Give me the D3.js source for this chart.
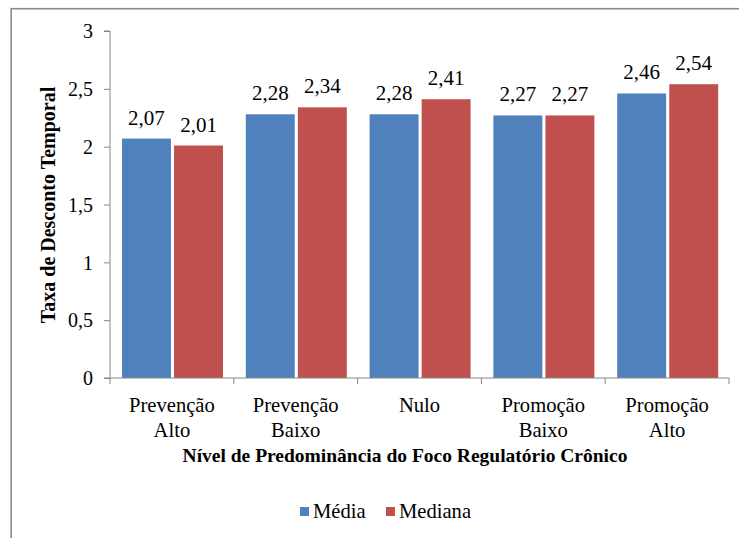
<!DOCTYPE html>
<html>
<head>
<meta charset="utf-8">
<script src="https://cdn.jsdelivr.net/npm/d3@7"></script>
<style>
  html, body { margin: 0; padding: 0; background: #fff; }
</style>
</head>
<body>
<svg id="chart" width="739" height="538"></svg>
<script>
// Categories and series values
const categories = [["Prevenção", "Alto"], ["Prevenção", "Baixo"], ["Nulo"], ["Promoção", "Baixo"], ["Promoção", "Alto"]];
const seriesNames = ["Média", "Mediana"];
const media = [2.07, 2.28, 2.28, 2.27, 2.46];
const mediana = [2.01, 2.34, 2.41, 2.27, 2.54];
const yTicks = [0, 0.5, 1, 1.5, 2, 2.5, 3];
const colors = ["#4F81BD", "#C0504D"];

const FONT = "'Liberation Serif', 'Times New Roman', serif";
const svg = d3.select("#chart");
const fmt = v => d3.format(".2f")(v).replace(".", ",");
const tickFmt = v => String(v).replace(".", ",");
const axisColor = "#868686";

// Outer frame
svg.append("rect")
  .attr("x", 11.2).attr("y", 8.7)
  .attr("width", 760).attr("height", 560)
  .attr("fill", "none").attr("stroke", "#8a8a8a").attr("stroke-width", 1.6);

const plot = { left: 110, right: 729, top: 31, bottom: 378 };

const y = d3.scaleLinear().domain([0, 3]).range([plot.bottom, plot.top]);
const catKeys = categories.map((c, i) => i);
const x0 = d3.scaleBand().domain(catKeys).range([plot.left, plot.right]).padding(0);
const x1 = d3.scaleBand().domain(seriesNames).range([12, 113]).paddingInner(0.06).paddingOuter(0);

// Y axis
const yAxis = svg.append("g")
  .attr("transform", `translate(${plot.left},0)`)
  .call(d3.axisLeft(y).tickValues(yTicks).tickFormat(tickFmt).tickSize(6).tickPadding(11));
yAxis.attr("font-family", null).attr("font-size", null);
yAxis.select(".domain").attr("stroke", axisColor).attr("d", `M-6,${y(3)}H0V${y(0)}`);
yAxis.selectAll(".tick line").attr("stroke", axisColor);
yAxis.selectAll(".tick text").style("font-size", "20px").attr("dy", "0.34em");

// Bars
const values = [media, mediana];
const groups = svg.append("g").selectAll("g")
  .data(catKeys).join("g")
  .attr("transform", i => `translate(${x0(i)},0)`);

groups.selectAll("rect")
  .data(i => seriesNames.map((s, k) => ({ s, k, v: values[k][i] })))
  .join("rect")
  .attr("x", d => x1(d.s))
  .attr("width", x1.bandwidth())
  .attr("y", d => y(d.v))
  .attr("height", d => y(0) - y(d.v))
  .attr("fill", d => colors[d.k]);

groups.selectAll("text.val")
  .data(i => seriesNames.map((s, k) => ({ s, k, v: values[k][i] })))
  .join("text")
  .attr("class", "val")
  .attr("x", d => x1(d.s) + x1.bandwidth() / 2)
  .attr("y", d => y(d.v) - 14)
  .attr("text-anchor", "middle")
  .style("font-size", "21px")
  .text(d => fmt(d.v));

// X axis
const xAxis = svg.append("g")
  .attr("transform", `translate(0,${plot.bottom})`);
xAxis.append("line")
  .attr("x1", plot.left - 6).attr("x2", plot.right)
  .attr("stroke", axisColor);
const boundaries = catKeys.map(i => x0(i)).concat([x0(catKeys[catKeys.length - 1]) + x0.bandwidth()]);
xAxis.selectAll("line.tick").data(boundaries).join("line")
  .attr("class", "tick")
  .attr("x1", d => d).attr("x2", d => d)
  .attr("y1", 0).attr("y2", 6)
  .attr("stroke", axisColor);

const catLabels = svg.append("g").selectAll("text")
  .data(catKeys).join("text")
  .attr("x", i => x0(i) + x0.bandwidth() / 2)
  .attr("y", 412)
  .attr("text-anchor", "middle")
  .style("font-size", "20.6px");
catLabels.selectAll("tspan")
  .data(i => categories[i])
  .join("tspan")
  .attr("x", function () { return d3.select(this.parentNode).attr("x"); })
  .attr("dy", (d, j) => j === 0 ? 0 : 25)
  .text(d => d);

// Axis titles
svg.append("text")
  .attr("x", 405).attr("y", 462)
  .attr("text-anchor", "middle")
  .style("font-size", "19.5px").style("font-weight", "bold")
  .text("Nível de Predominância do Foco Regulatório Crônico");

svg.append("text")
  .attr("transform", "translate(55,205) rotate(-90)")
  .attr("text-anchor", "middle")
  .style("font-size", "20px").style("font-weight", "bold")
  .text("Taxa de Desconto Temporal");

// Legend
const legend = svg.append("g");
const legendItems = [{ name: seriesNames[0], x: 300 }, { name: seriesNames[1], x: 386 }];
legendItems.forEach((it, k) => {
  legend.append("rect")
    .attr("x", it.x).attr("y", 507).attr("width", 9).attr("height", 9)
    .attr("fill", colors[k]);
  legend.append("text")
    .attr("x", it.x + 13).attr("y", 518)
    .style("font-size", "20.6px")
    .text(it.name);
});

// Serif face and black fill on every label
svg.selectAll("text").style("font-family", FONT).style("fill", "#000");
</script>
</body>
</html>
